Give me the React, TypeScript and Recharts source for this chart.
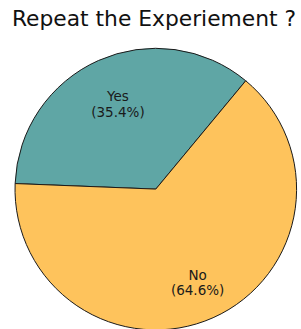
import React from 'react';
import { PieChart, Pie, Cell } from 'recharts';

const answers = ['Yes', 'No'];
const shares = [35.4, 64.6];
const colors = ['#5fa6a5', '#fec35c'];

const data = answers.map((name, i) => ({ name, value: shares[i] }));

const RADIAN = Math.PI / 180;
// labels sit a bit further out on the big slice, like the source
const labelDist = [0.66, 0.73];

function renderLabel(props: any) {
  const { cx, cy, midAngle, outerRadius, index, name, percent } = props;
  const r = outerRadius * labelDist[index];
  const x = cx + r * Math.cos(-midAngle * RADIAN);
  const y = cy + r * Math.sin(-midAngle * RADIAN);
  return (
    <text
      x={x}
      y={y}
      textAnchor="middle"
      fill="#1a1a1a"
      fontSize={13.5}
      fontFamily="DejaVu Sans"
    >
      <tspan x={x} dy={-3}>{name}</tspan>
      <tspan x={x} dy={15.5}>({(percent * 100).toFixed(1)}%)</tspan>
    </text>
  );
}

export default function App() {
  return (
    <div style={{ position: 'absolute', left: 0, top: 0, width: 301, height: 329, background: '#fff' }}>
      <PieChart width={301} height={329} margin={{ top: 0, right: 0, bottom: 0, left: 0 }}>
        <Pie
          data={data}
          dataKey="value"
          nameKey="name"
          cx={155.8}
          cy={189.1}
          outerRadius={140.8}
          startAngle={50.3}
          endAngle={410.3}
          stroke="#1a1a1a"
          strokeWidth={1}
          label={renderLabel}
          labelLine={false}
          isAnimationActive={false}
        >
          {data.map((d, i) => (
            <Cell key={d.name} fill={colors[i]} />
          ))}
        </Pie>
      </PieChart>
      <div
        style={{
          position: 'absolute',
          left: 0,
          top: 6,
          width: 308,
          textAlign: 'center',
          fontFamily: 'DejaVu Sans',
          fontSize: 21.8,
          lineHeight: '26px',
          color: '#111',
        }}
      >
        Repeat the Experiement ?
      </div>
    </div>
  );
}
